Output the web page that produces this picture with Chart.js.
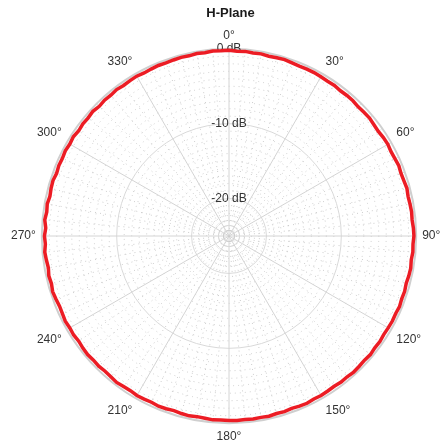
<!DOCTYPE html>
<html>
<head>
<meta charset="utf-8">
<script src="https://cdn.jsdelivr.net/npm/chart.js@4"></script>
<style>
  html, body { margin: 0; padding: 0; background: #fff; }
  #wrap { width: 445px; height: 448px; }
</style>
</head>
<body>
<div id="wrap"><canvas id="myChart"></canvas></div>
<script>
// angles in degrees, 2.5 deg steps
var angles = [];
for (var a = 0; a < 360; a += 2.5) angles.push(a);

// H-plane gain (dB), 0..357.5 deg
var gain = [
  -0.2,-0.3,-0.25,-0.35,-0.3,-0.4,-0.35,-0.3,-0.4,-0.45,-0.4,-0.4,
  -0.45,-0.5,-0.45,-0.55,-0.5,-0.5,-0.6,-0.55,-0.5,-0.6,-0.65,-0.55,
  -0.5,-0.6,-0.55,-0.45,-0.55,-0.5,-0.4,-0.5,-0.45,-0.4,-0.45,-0.35,
  -0.3,-0.4,-0.35,-0.45,-0.35,-0.4,-0.5,-0.4,-0.45,-0.35,-0.45,-0.4,
  -0.45,-0.5,-0.4,-0.45,-0.35,-0.45,-0.4,-0.35,-0.45,-0.4,-0.5,-0.45,
  -0.4,-0.45,-0.35,-0.4,-0.5,-0.4,-0.45,-0.35,-0.4,-0.35,-0.4,-0.35,
  -0.35,-0.4,-0.35,-0.45,-0.5,-0.4,-0.45,-0.55,-0.45,-0.4,-0.5,-0.45,
  -0.4,-0.5,-0.45,-0.35,-0.45,-0.5,-0.4,-0.45,-0.35,-0.4,-0.5,-0.4,
  -0.45,-0.35,-0.45,-0.5,-0.4,-0.3,-0.45,-0.35,-0.5,-0.4,-0.3,-0.45,
  -0.35,-0.5,-0.3,-0.45,-0.35,-0.5,-0.4,-0.35,-0.5,-0.4,-0.45,-0.35,
  -0.45,-0.35,-0.5,-0.4,-0.45,-0.35,-0.5,-0.4,-0.45,-0.35,-0.45,-0.4,
  -0.35,-0.45,-0.4,-0.35,-0.4,-0.35,-0.3,-0.35,-0.25,-0.3,-0.2,-0.25
];

var dbLabels = [0, -10, -20];   // rings that get a text label
var dbMin = -25, dbMax = 0;

var FONT = '"Liberation Sans", Arial, Helvetica, sans-serif';

var ctx = document.getElementById('myChart').getContext('2d');
var chart = new Chart(ctx, {
    type: 'radar',
    data: {
        labels: angles,
        datasets: [{
            label: 'H-Plane',
            data: gain,
            borderColor: '#ec1c24',
            borderWidth: 3.5,
            backgroundColor: 'rgba(0,0,0,0)',
            fill: false,
            pointRadius: 0,
            tension: 0
        }]
    },
    options: {
        responsive: true,
        maintainAspectRatio: false,
        animation: false,
        layout: { padding: { left: 8, right: -8, top: 0, bottom: 0 } },
        plugins: {
            legend: { display: false },
            tooltip: { enabled: false },
            title: {
                display: true,
                text: 'H-Plane',
                color: '#1a1a1a',
                font: { family: FONT, size: 13, weight: 'bold' },
                padding: { top: 6, bottom: 4 }
            }
        },
        scales: {
            r: {
                min: dbMin,
                max: dbMax,
                startAngle: 0,
                ticks: {
                    stepSize: 1,
                    autoSkip: false,
                    showLabelBackdrop: false,
                    backdropPadding: 0,
                    color: '#333',
                    font: { family: FONT, size: 12 },
                    callback: function(v) {
                        return dbLabels.indexOf(v) >= 0 ? v + ' dB' : '';
                    }
                },
                grid: {
                    circular: true,
                    color: function(c) {
                        var v = c.tick ? c.tick.value : 0;
                        if (v === 0) return '#cfcfcf';
                        return v % 10 === 0 ? '#d9d9d9' : '#cccccc';
                    },
                    lineWidth: function(c) {
                        var v = c.tick ? c.tick.value : 0;
                        return v === 0 ? 2 : 1;
                    }
                },
                border: {
                    dash: function(c) {
                        var v = c.tick ? c.tick.value : 0;
                        return v % 10 === 0 ? [] : [1, 4];
                    }
                },
                angleLines: {
                    color: function(c) {
                        return c.index % 12 === 0 ? '#d4d4d4' : '#cccccc';
                    },
                    lineWidth: function(c) {
                        return c.index % 2 === 0 ? 1 : 0;
                    },
                    borderDash: function(c) {
                        return c.index % 12 === 0 ? [] : [1, 4];
                    }
                },
                pointLabels: {
                    color: '#333',
                    padding: 0,
                    font: { family: FONT, size: 12 },
                    callback: function(lbl) {
                        // empty array = no text and no space taken in the fit
                        return lbl % 30 === 0 ? lbl + '\u00b0' : [];
                    }
                }
            }
        }
    }
});
</script>
</body>
</html>
